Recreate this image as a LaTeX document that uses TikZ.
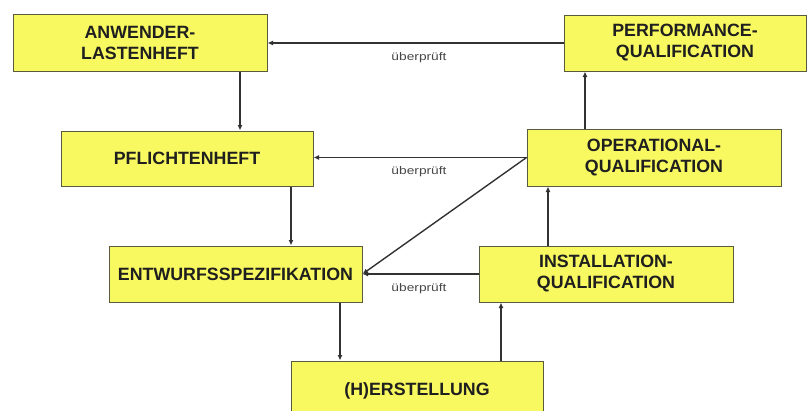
\documentclass[tikz,border=0pt]{standalone}
\usepackage{fontspec}
\setmainfont{Liberation Sans}
\usetikzlibrary{arrows.meta,positioning}
\definecolor{boxfill}{RGB}{248,248,96}
\definecolor{boxline}{RGB}{90,90,60}
\definecolor{linecol}{RGB}{50,50,50}
\definecolor{labcol}{RGB}{70,70,70}
\tikzset{
  box/.style={draw=boxline, line width=1pt, fill=boxfill, inner sep=0pt,
    align=center, font=\fontsize{17.8}{21}\selectfont\bfseries, text=black!88},
  arr/.style={draw=linecol, line width=1.4pt, -{Latex[length=5.5pt,width=5pt]}},
  lab/.style={font=\fontsize{11}{13}\selectfont, text=labcol, xscale=1.25, inner sep=0pt}
}
\begin{document}
\begin{tikzpicture}[x=1pt,y=-1pt]
\useasboundingbox (0,0) rectangle (809,410);
\node[box, minimum width=254pt, minimum height=57pt] (ANW) at (140,42.5) {ANWENDER-\\LASTENHEFT};
\node[box, minimum width=242pt, minimum height=56pt] (PQ) at (685,43) {PERFORMANCE-\\QUALIFICATION};
\node[box, minimum width=252pt, minimum height=55pt] (PF) at (187,158.5) {PFLICHTENHEFT};
\node[box, minimum width=253pt, minimum height=56pt] (EN) at (235.5,274) {ENTWURFSSPEZIFIKATION};
\node[box, minimum width=254pt, minimum height=57pt] (OQ) at (654,157.5) {OPERATIONAL-\\QUALIFICATION};
\node[box, minimum width=254pt, minimum height=56pt] (IQ) at (606,274) {INSTALLATION-\\QUALIFICATION};
\node[box, minimum width=252pt, minimum height=59pt] (HE) at (417,390.5) {(H)ERSTELLUNG};

\draw[arr] (PQ.west) -- (PQ.west -| ANW.east);
\draw[arr] ([xshift=100pt]ANW.south) -- ([xshift=100pt]ANW.south |- PF.north);
\draw[arr] (OQ.west) -- (OQ.west -| PF.east);
\draw[arr] (OQ.west) -- (EN.east);
\draw[arr] ([xshift=104pt]PF.south) -- ([xshift=104pt]PF.south |- EN.north);
\draw[arr] (IQ.west) -- (EN.east);
\draw[arr] ([xshift=104.5pt]EN.south) -- ([xshift=104.5pt]EN.south |- HE.north);
\draw[arr] ([xshift=84pt]HE.north) -- ([xshift=84pt]HE.north |- IQ.south);
\draw[arr] ([xshift=-58pt]IQ.north) -- ([xshift=-58pt]IQ.north |- OQ.south);
\draw[arr] ([xshift=-69pt]OQ.north) -- ([xshift=-69pt]OQ.north |- PQ.south);

\node[lab] (L1) at (419,58) {überprüft};
\node[lab] (L2) at (419,172) {überprüft};
\node[lab] (L3) at (419,289) {überprüft};
\end{tikzpicture}
\end{document}
